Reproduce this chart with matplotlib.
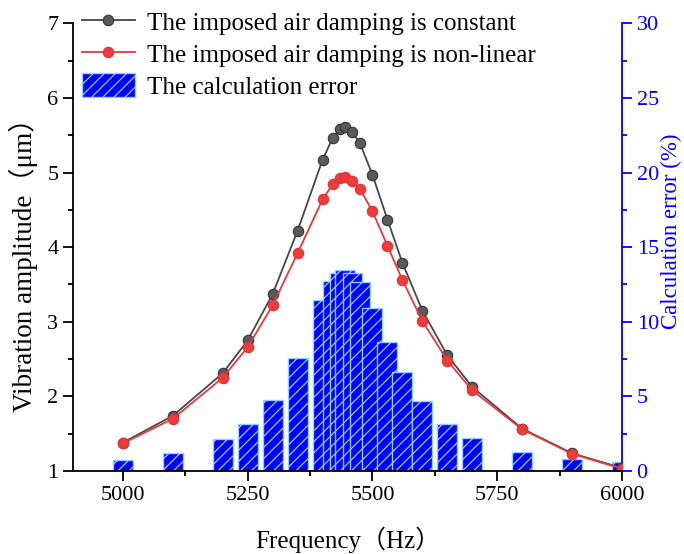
import matplotlib
matplotlib.use('Agg')
import matplotlib.pyplot as plt
from matplotlib.ticker import MultipleLocator

plt.rcParams['font.family'] = ['Liberation Serif', 'Noto Sans CJK SC']
plt.rcParams['hatch.linewidth'] = 0.9

# 数据
freq = [5000, 5100, 5200, 5250, 5300, 5350, 5400, 5420, 5435, 5445, 5460,
        5475, 5500, 5530, 5560, 5600, 5650, 5700, 5800, 5900, 6000]
amp_const = [1.38, 1.74, 2.31, 2.75, 3.37, 4.22, 5.17, 5.46, 5.585, 5.61, 5.54,
             5.39, 4.97, 4.37, 3.79, 3.15, 2.55, 2.125, 1.567, 1.237, 1.04]
amp_nonlin = [1.37, 1.70, 2.25, 2.66, 3.22, 3.92, 4.64, 4.84, 4.92, 4.94, 4.89,
              4.78, 4.48, 4.02, 3.56, 3.01, 2.48, 2.08, 1.558, 1.23, 1.03]
calc_err = [0.71, 1.18, 2.17, 3.17, 4.78, 7.59, 11.43, 12.72, 13.3, 13.46, 13.28,
            12.66, 10.94, 8.66, 6.65, 4.71, 3.17, 2.23, 1.27, 0.80, 0.58]

blue = '#0000ff'

fig = plt.figure(figsize=(6.84, 5.54), dpi=100)
ax = fig.add_axes([0.1067, 0.1498, 0.8027, 0.8082])
ax2 = ax.twinx()

# 柱状图（误差，右轴）
bars = ax2.bar(freq, calc_err, width=40, color=blue, edgecolor='#8fd0ff',
               hatch='///', linewidth=1.0, label='The calculation error')
ax2.set_ylim(0, 30)
ax2.set_xlim(4900, 6000)

# 折线（振幅，左轴）
l1, = ax.plot(freq, amp_const, '-o', color='#474747', lw=1.3, ms=7.5,
              mfc='#5a5a5a', mec='#333333', mew=0.8,
              label='The imposed air damping is constant')
l2, = ax.plot(freq, amp_nonlin, '-o', color='#e8383a', lw=1.3, ms=7.5,
              mfc='#ee3b3b', mec='#e03333', mew=0.8,
              label='The imposed air damping is non-linear')
ax.set_zorder(ax2.get_zorder() + 1)
ax.patch.set_visible(False)

ax.set_xlim(4900, 6000)
ax.set_ylim(1, 7)
ax.xaxis.set_major_locator(MultipleLocator(250))
ax.xaxis.set_minor_locator(MultipleLocator(125))
ax.yaxis.set_major_locator(MultipleLocator(1))
ax.yaxis.set_minor_locator(MultipleLocator(0.5))
ax2.yaxis.set_major_locator(MultipleLocator(5))
ax2.yaxis.set_minor_locator(MultipleLocator(2.5))

ax.tick_params(axis='both', which='major', direction='out', length=7, width=1.3, labelsize=16)
ax.tick_params(axis='both', which='minor', direction='out', length=3.5, width=1.3)
ax2.tick_params(axis='y', which='major', direction='out', length=7, width=1.3,
                labelsize=16, colors=blue)
ax2.tick_params(axis='y', which='minor', direction='out', length=3.5, width=1.3, colors=blue)

for s in ['left', 'bottom']:
    ax.spines[s].set_linewidth(1.3)
ax.spines['top'].set_visible(False)
ax.spines['right'].set_visible(False)
ax2.spines['top'].set_visible(False)
ax2.spines['left'].set_visible(False)
ax2.spines['bottom'].set_visible(False)
ax2.spines['right'].set_color(blue)
ax2.spines['right'].set_linewidth(1.3)

ax.set_xlabel('Frequency（Hz）', fontsize=18)
ax.xaxis.set_label_coords(0.5, -0.125)
ax.set_ylabel('Vibration amplitude（μm）', fontsize=19.5)
ax.yaxis.set_label_coords(-0.064, 0.475)
ax2.set_ylabel('Calculation error (%)', fontsize=16.5, color=blue)
ax2.yaxis.set_label_coords(1.07, 0.535)

fig.legend(handles=[l1, l2, bars], loc='upper left',
           bbox_to_anchor=(0.12, 0.982), frameon=False, fontsize=18,
           handlelength=2.1, handleheight=1.1, handletextpad=0.5,
           labelspacing=0.25, borderpad=0, borderaxespad=0)

plt.savefig('out.png', dpi=100)
